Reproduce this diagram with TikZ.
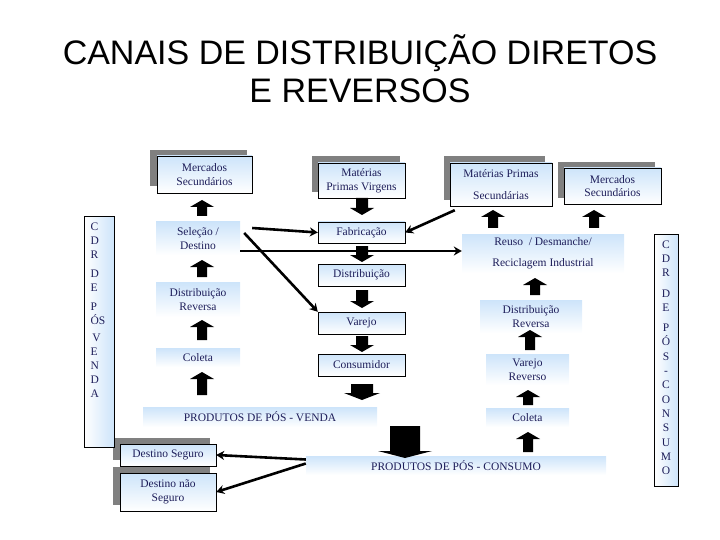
\documentclass[tikz,border=0pt]{standalone}
\usepackage{fontspec}
\usetikzlibrary{arrows.meta}
\setmainfont{Liberation Serif}
\newfontfamily\titlefont{Liberation Sans}
\definecolor{navy}{RGB}{30,30,90}
\definecolor{lb}{RGB}{205,228,250}
\definecolor{shad}{RGB}{128,128,128}
\newcommand{\blkup}[3]{\fill (#1-5,#3) -- (#1-5,#2+7) -- (#1-12,#2+7) -- (#1,#2) -- (#1+12,#2+7) -- (#1+5,#2+7) -- (#1+5,#3) -- cycle;}
\newcommand{\blkdn}[5]{\fill (#1-#4,#2) -- (#1-#4,#3-7) -- (#1-#5,#3-7) -- (#1,#3) -- (#1+#5,#3-7) -- (#1+#4,#3-7) -- (#1+#4,#2) -- cycle;}
\begin{document}
\begin{tikzpicture}[x=1pt,y=-1pt,
  lbl/.style={font=\fontsize{11.5}{13.5}\selectfont,text=navy,align=center},
  boxed/.style={draw=black,top color=lb,bottom color=white,lbl},
  soft/.style={top color=lb,bottom color=white,lbl},
  shadow/.style={fill=shad},
  thk/.style={line width=2.6pt,-{Stealth[length=8pt,width=9pt]}},
  vbox/.style={draw=black,left color=white,right color=lb,lbl}]
\useasboundingbox (0,0) rectangle (720,540);
\node[font=\titlefont\fontsize{34}{38}\selectfont,align=center] (title) at (360,69) {CANAIS DE DISTRIBUIÇÃO DIRETOS\\E REVERSOS};
% shadows
\fill[shadow] (150,150) rectangle (247,186);
\fill[shadow] (312,156) rectangle (400,192);
\fill[shadow] (444,156) rectangle (545,200);
\fill[shadow] (558,162) rectangle (655,198);
\fill[shadow] (113,438) rectangle (210,460);
\fill[shadow] (113,467) rectangle (210,505);
% left column
\node[boxed,minimum width=95pt,minimum height=37pt] (ms1) at (204.5,174.5) {Mercados\\Secundários};
\node[soft,minimum width=84pt,minimum height=33pt] (sel) at (198,238.5) {Seleção /\\Destino};
\node[soft,minimum width=84pt,minimum height=35pt] (dr1) at (198,299.5) {Distribuição\\Reversa};
\node[soft,minimum width=84pt,minimum height=19pt] (col1) at (198,357.5) {Coleta};
\node[soft,minimum width=234pt,minimum height=20pt] (ppv) at (260,417) {PRODUTOS DE PÓS - VENDA};
\node[vbox,minimum width=30pt,minimum height=231pt,anchor=north west,inner sep=0pt] (cdr1) at (84,216) {};
\node[lbl,anchor=north west,align=left,font=\fontsize{11.5}{14}\selectfont] (cdr1t) at (87,219) {C\\D\\R\\[5pt]D\\E\\[5pt]P\\ÓS\\[3pt]\,V\\E\\N\\D\\A};
\node[boxed,minimum width=96pt,minimum height=22pt] (ds) at (168,455) {Destino Seguro};
\node[boxed,minimum width=96pt,minimum height=38pt] (dns) at (168,492) {Destino não\\Seguro};
% center column
\node[boxed,minimum width=87pt,minimum height=35pt] (mpv) at (361.5,180.5) {Matérias\\Primas Virgens};
\node[boxed,minimum width=87pt,minimum height=21pt] (fab) at (361.5,232.5) {Fabricação};
\node[boxed,minimum width=87pt,minimum height=22pt] (dist) at (361.5,275) {Distribuição};
\node[boxed,minimum width=87pt,minimum height=22pt] (var) at (361.5,323) {Varejo};
\node[boxed,minimum width=87pt,minimum height=22pt] (cons) at (361.5,365) {Consumidor};
% right column
\node[boxed,minimum width=102pt,minimum height=43pt] (mps) at (501,184.5) {Matérias Primas\\[8pt]Secundárias};
\node[boxed,minimum width=97pt,minimum height=36pt] (ms2) at (612.5,186) {Mercados\\Secundários};
\node[soft,minimum width=162pt,minimum height=39pt] (reu) at (543,253.5) {Reuso \ / Desmanche/\\[8pt]Reciclagem Industrial};
\node[soft,minimum width=102pt,minimum height=33pt] (dr2) at (531,316.5) {Distribuição\\Reversa};
\node[soft,minimum width=83pt,minimum height=31pt] (vr) at (527.5,369.5) {Varejo\\Reverso};
\node[soft,minimum width=83pt,minimum height=19pt] (col2) at (527.5,417.5) {Coleta};
\node[soft,minimum width=300pt,minimum height=19pt] (ppc) at (456,465.5) {PRODUTOS DE PÓS - CONSUMO};
\node[vbox,minimum width=24pt,minimum height=252pt,anchor=north west,inner sep=0pt] (cdr2) at (654,234) {};
\node[lbl,anchor=north,font=\fontsize{11.5}{14.3}\selectfont] (cdr2t) at (666,237) {C\\D\\R\\[6pt]D\\E\\[6pt]P\\Ó\\S\\-\\C\\O\\N\\S\\U\\M\\O};
% block arrows
\blkup{202}{200}{216}
\blkup{202}{260}{277}
\blkup{202}{320}{340}
\blkup{202}{372}{395}
\blkdn{362}{198}{215}{6}{12}
\blkdn{362}{246}{262}{6}{12}
\blkdn{362}{290}{308}{6}{12}
\blkdn{362}{336}{352}{6}{12}
\blkdn{362}{384}{400}{11}{18}
\blkdn{405}{426}{458}{15}{27}
\blkup{493}{210}{228}
\blkup{594}{210}{228}
\blkup{535}{278}{295}
\blkup{530}{330}{350}
\blkup{528}{390}{405}
\blkup{528}{432}{452}
% connectors
\draw[thk] (sel.east |- 0,228) ++(12,0) -- (fab.west);
\draw[thk] (sel.east |- 0,233) ++(4,0) -- (var.north west);
\draw[thk] (sel.east |- 0,251) -- (reu.west |- 0,251);
\draw[thk] (mps.south west) ++(5,4) -- (fab.east);
\draw[thk] (ppc.west) ++(0,-6) -- (ds.east);
\draw[thk] (ppc.west) ++(0,-2) -- (dns.east);
\end{tikzpicture}
\end{document}
